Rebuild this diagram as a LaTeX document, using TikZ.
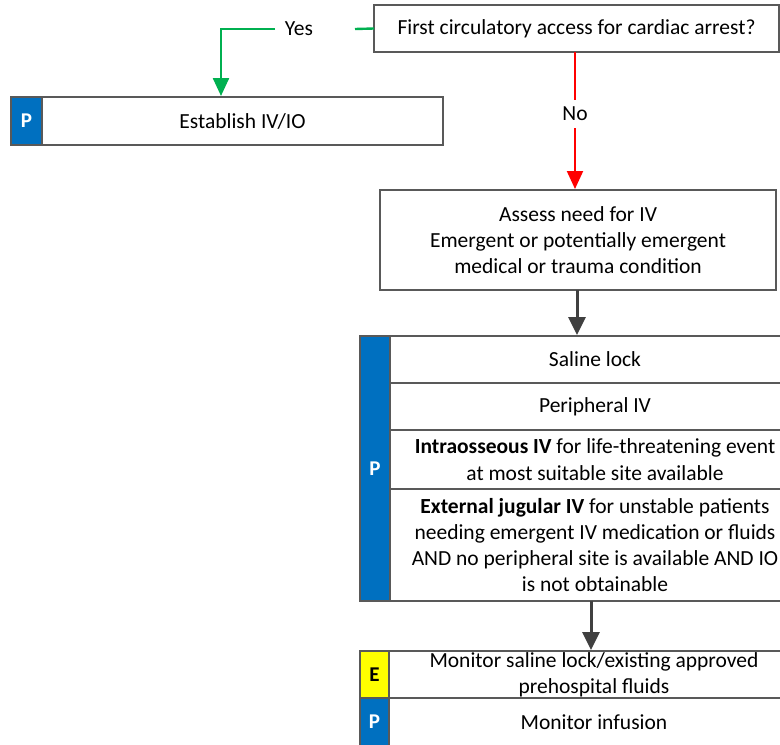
\documentclass[tikz,border=0pt]{standalone}
\usepackage{fontspec}
\setmainfont{Carlito}
\usetikzlibrary{arrows.meta}
\definecolor{bordc}{HTML}{595959}
\definecolor{pblue}{HTML}{0070C0}
\definecolor{eyel}{HTML}{FFFF00}
\definecolor{gline}{HTML}{00B050}
\definecolor{rline}{HTML}{FF0000}
\definecolor{darr}{HTML}{404040}
\begin{document}
\begin{tikzpicture}[x=1pt,y=-1pt,
  font=\fontsize{21.5}{26.3}\selectfont,
  box/.style={draw=bordc,line width=1.3pt,fill=white,inner sep=0pt,outer sep=0pt,anchor=north west,align=center},
  pstrip/.style={box,fill=pblue,text=white,font=\fontsize{21}{24}\selectfont\bfseries},
  estrip/.style={box,fill=eyel,text=black,font=\fontsize{21}{24}\selectfont\bfseries},
  ctip/.style={-{Triangle[length=18pt,width=16pt]}},
  garr/.style={gline,line width=2.4pt},
  rarr/.style={rline,line width=2pt},
  karr/.style={darr,line width=3pt,-{Triangle[length=18pt,width=17pt]}}]
\useasboundingbox (0,0) rectangle (780,745);
% top question
\node[box,minimum width=405pt,minimum height=47pt] (q) at (374,5) {First circulatory access for cardiac arrest?};
% establish
\node[box,minimum width=401pt,minimum height=48pt] (est) at (42,97) {Establish IV/IO};
\node[pstrip,minimum width=31pt,minimum height=48pt] (p1) at (11,97) {P};
% yes
\node (yes) at (299,29) {Yes};
\coordinate (ya) at (355,29);
\coordinate (yb) at (275,29);
\coordinate (yc) at (221,96);
\draw[garr] (q.west) -- (ya);
\draw[garr,ctip] (yb) -| (yc);
% no
\coordinate (na) at (575,52);
\coordinate (nb) at (575,100);
\coordinate (nc) at (575,128);
\coordinate (nd) at (575,189);
\node (no) at (575,114) {No};
\draw[rarr] (na) -- (nb);
\draw[rarr,ctip] (nc) -- (nd);
% assess
\node[box,minimum width=396pt,minimum height=100pt] (ass) at (380,190) {Assess need for IV\\Emergent or potentially emergent\\medical or trauma condition};
% group
\node[box,minimum width=410pt,minimum height=47pt] (r1) at (390,336) {Saline lock};
\node[box,minimum width=410pt,minimum height=47pt] (r2) at (390,383) {Peripheral IV};
\node[box,minimum width=410pt,minimum height=59pt] (r3) at (390,430) {\textbf{Intraosseous IV} for life-threatening event\\at most suitable site available};
\node[box,minimum width=410pt,minimum height=112pt] (r4) at (390,489) {\textbf{External jugular IV} for unstable patients\\needing emergent IV medication or fluids\\AND no peripheral site is available AND IO\\is not obtainable};
\node[pstrip,minimum width=30pt,minimum height=265pt] (p2) at (360,336) {P};
\coordinate (g1) at (577,290);
\coordinate (g2) at (577,335);
\draw[karr] (g1) -- (g2);
\coordinate (g3) at (591,601);
\coordinate (g4) at (591,650);
\draw[karr] (g3) -- (g4);
% bottom
\node[box,minimum width=410pt,minimum height=47pt] (e1) at (389,651) {Monitor saline lock/existing approved\\prehospital fluids};
\node[estrip,minimum width=29pt,minimum height=47pt] (pe) at (360,651) {E};
\node[box,minimum width=410pt,minimum height=48pt] (e2) at (389,698) {Monitor infusion};
\node[pstrip,minimum width=29pt,minimum height=48pt] (pp) at (360,698) {P};
\end{tikzpicture}
\end{document}
